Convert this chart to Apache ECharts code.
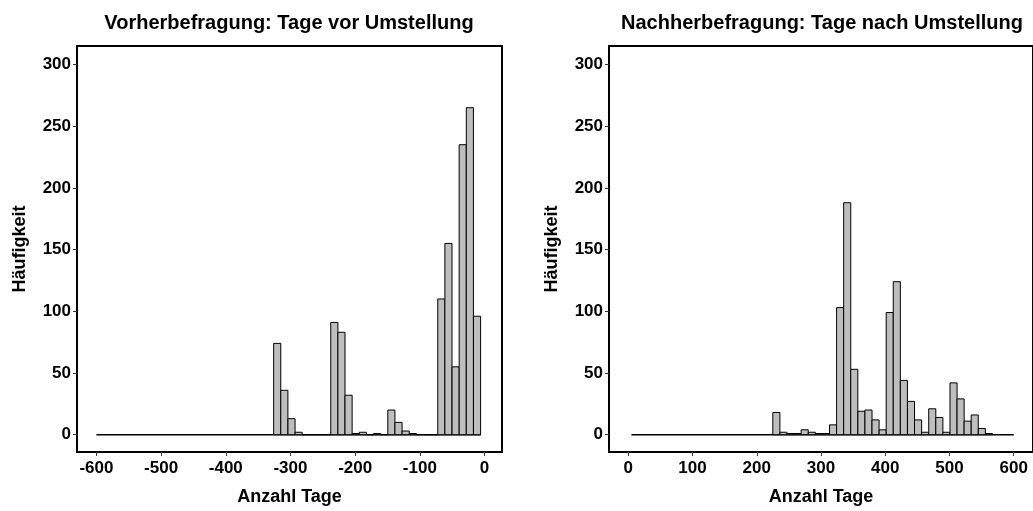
<!DOCTYPE html>
<html>
<head>
<meta charset="utf-8">
<script src="https://cdn.jsdelivr.net/npm/echarts@6/dist/echarts.min.js"></script>
<style>
  html, body { margin: 0; padding: 0; background: #ffffff; }
  #chart { width: 1033px; height: 511px; }
</style>
</head>
<body>
<div id="chart"></div>
<script>
// Histogram bins (centres in days, counts)
const binWidth = 11.03;

const beforeCenters = [-320.5, -309.5, -298.4, -287.4, -276.4, -265.3, -254.3, -243.3, -232.2, -221.2,
  -210.2, -199.2, -188.1, -177.1, -166.1, -155.0, -144.0, -133.0, -121.9, -110.9,
  -99.9, -88.8, -77.8, -66.8, -55.8, -44.7, -33.7, -22.7, -11.6];
const beforeCounts = [74, 36, 13, 2, 0, 0, 0, 0, 91, 83,
  32, 1, 2, 0, 1, 0, 20, 10, 3, 1,
  0, 0, 0, 110, 155, 55, 235, 265, 96];

const afterCenters = [230.5, 241.5, 252.6, 263.6, 274.6, 285.7, 296.7, 307.7, 318.8, 329.8,
  340.8, 351.8, 362.9, 373.9, 384.9, 396.0, 407.0, 418.0, 429.0, 440.1,
  451.1, 462.1, 473.2, 484.2, 495.2, 506.3, 517.3, 528.3, 539.3, 550.4, 561.4];
const afterCounts = [18, 2, 1, 1, 4, 2, 1, 1, 8, 103,
  188, 53, 19, 20, 12, 4, 99, 124, 44, 27,
  12, 2, 21, 14, 2, 42, 29, 11, 16, 5, 1];

// zero line under each histogram
const beforeZeroLine = [-600, -5.7];
const afterZeroLine = [5, 600];

const beforeTicks = [-600, -500, -400, -300, -200, -100, 0];
const afterTicks = [0, 100, 200, 300, 400, 500, 600];
const yTicks = [0, 50, 100, 150, 200, 250, 300];

const titles = ["Vorherbefragung: Tage vor Umstellung", "Nachherbefragung: Tage nach Umstellung"];

const FONT = "'Liberation Sans', Arial, sans-serif";

const chart = echarts.init(document.getElementById("chart"));

const renderBin = (params, api) => {
  const c = api.value(0);
  const n = api.value(1);
  const p0 = api.coord([c - binWidth / 2, n]);
  const p1 = api.coord([c + binWidth / 2, 0]);
  return {
    type: "rect",
    shape: { x: p0[0], y: p0[1], width: p1[0] - p0[0], height: p1[1] - p0[1] },
    style: { fill: "#bebebe", stroke: "#000000", lineWidth: 1 },
  };
};

const xAxisFor = (idx, min, max, ticks) => ({
  type: "value",
  gridIndex: idx,
  min,
  max,
  name: "Anzahl Tage",
  nameLocation: "middle",
  nameGap: 36,
  nameTextStyle: { color: "#000", fontSize: 18, fontWeight: "bold", fontFamily: FONT },
  axisLine: { show: false, onZero: false },
  axisTick: { show: true, customValues: ticks, length: 4, lineStyle: { color: "#333", width: 1 } },
  axisLabel: { customValues: ticks, color: "#000", fontSize: 17, fontWeight: "bold", fontFamily: FONT, margin: 8 },
  splitLine: { show: false },
});

const yAxisFor = (idx) => ({
  type: "value",
  gridIndex: idx,
  min: -14,
  max: 315,
  name: "Häufigkeit",
  nameLocation: "middle",
  nameGap: 48,
  nameTextStyle: { color: "#000", fontSize: 18, fontWeight: "bold", fontFamily: FONT },
  axisLine: { show: false, onZero: false },
  axisTick: { show: true, customValues: yTicks, length: 4, lineStyle: { color: "#333", width: 1 } },
  axisLabel: { customValues: yTicks, color: "#000", fontSize: 17, fontWeight: "bold", fontFamily: FONT, margin: 6 },
  splitLine: { show: false },
});

const option = {
  backgroundColor: "#ffffff",
  animation: false,
  title: [
    {
      text: titles[0], left: 289, top: 13, textAlign: "center", padding: 0,
      textStyle: { color: "#000", fontSize: 20, fontWeight: "bold", fontFamily: FONT },
    },
    {
      text: titles[1], left: 822, top: 13, textAlign: "center", padding: 0,
      textStyle: { color: "#000", fontSize: 20, fontWeight: "bold", fontFamily: FONT },
    },
  ],
  grid: [
    { left: 77, top: 46, right: 531, bottom: 56, show: true, borderColor: "#000", borderWidth: 2, backgroundColor: "transparent" },
    { left: 609, top: 46, right: -3, bottom: 56, show: true, borderColor: "#000", borderWidth: 2, backgroundColor: "transparent" },
  ],
  xAxis: [xAxisFor(0, -630, 27, beforeTicks), xAxisFor(1, -30, 630, afterTicks)],
  yAxis: [yAxisFor(0), yAxisFor(1)],
  series: [
    {
      type: "line", xAxisIndex: 0, yAxisIndex: 0, symbol: "none", silent: true,
      data: beforeZeroLine.map((x) => [x, 0]),
      lineStyle: { color: "#000", width: 1.5 }, z: 1,
    },
    {
      type: "line", xAxisIndex: 1, yAxisIndex: 1, symbol: "none", silent: true,
      data: afterZeroLine.map((x) => [x, 0]),
      lineStyle: { color: "#000", width: 1.5 }, z: 1,
    },
    {
      type: "custom", xAxisIndex: 0, yAxisIndex: 0, renderItem: renderBin, z: 2,
      data: beforeCenters.map((c, i) => [c, beforeCounts[i]]),
    },
    {
      type: "custom", xAxisIndex: 1, yAxisIndex: 1, renderItem: renderBin, z: 2,
      data: afterCenters.map((c, i) => [c, afterCounts[i]]),
    },
  ],
};

chart.setOption(option);
</script>
</body>
</html>
